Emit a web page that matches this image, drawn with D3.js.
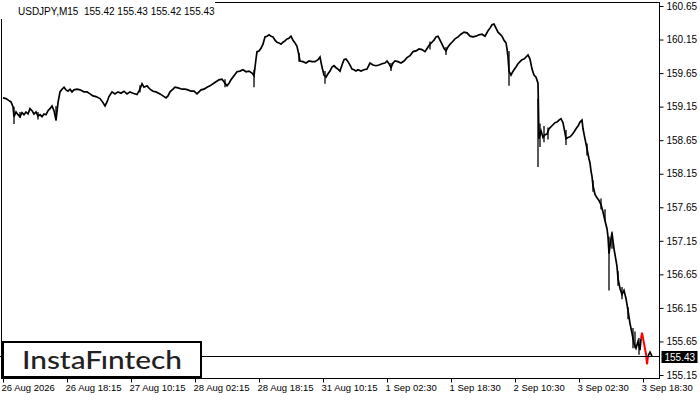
<!DOCTYPE html>
<html><head><meta charset="utf-8">
<script src="https://cdn.jsdelivr.net/npm/d3@7/dist/d3.min.js"></script>
<style>
html,body{margin:0;padding:0;background:#fff;}
svg{display:block;}
</style></head>
<body>
<svg id="chart" width="700" height="400"></svg>
<script>
// ---- data ----
const symbolTitle = "USDJPY,M15  155.42 155.43 155.42 155.43";
const lastPrice = 155.43;
const yTickValues = [160.65,160.15,159.65,159.15,158.65,158.15,157.65,157.15,156.65,156.15,155.65,155.15];
const xTickBars = [0,64,128,192,256,320,384,448,512,576,640];
const xTickLabels = ["26 Aug 2026","26 Aug 18:15","27 Aug 10:15","28 Aug 02:15","28 Aug 18:15","31 Aug 10:15","1 Sep 02:30","1 Sep 18:30","2 Sep 10:30","3 Sep 02:30","3 Sep 18:30"];

// sampled bar index (15-min bars) and price
const barIndex = [0,3,6,8,10,11,13,15,17,19,21,23,25,27,29,31,33,35,37,39,41,43,45,47,49,51,53,55,57,59,61,63,65,67,69,71,74,77,81,84,87,90,93,97,100,102,104,106,109,112,115,118,121,124,127,130,134,137,139,141,144,147,150,153,157,160,163,165,167,170,172,175,179,182,185,188,191,194,196,198,201,204,207,210,213,216,219,222,224,226,228,231,234,237,240,243,246,249,251,253,254,256,258,260,262,264,266,268,270,272,274,276,278,280,282,284,286,288,290,292,294,296,297,300,303,306,309,312,315,317,319,321,323,325,327,329,331,333,335,337,339,341,343,345,347,349,351,353,355,358,361,364,367,370,373,376,379,382,384,386,388,390,392,395,398,401,404,407,410,413,416,419,422,425,427,429,431,433,435,437,439,441,443,445,447,449,452,455,458,461,464,467,470,473,476,479,482,485,487,489,491,493,495,497,499,501,503,504,505,506,508,509,511,513,515,517,519,521,523,525,527,529,531,533,535,536,538,540,542,544,546,548,550,552,554,556,558,560,562,563,565,567,569,571,573,575,577,579,580,582,584,586,587,588,589,590,592,594,596,598,600,602,604,605,606,608,609,611,613,614,615,617,619,621,623,625,627,629,631,633,635,637,638,639,641,643,644,645,647,649];
const price = [159.28,159.27,159.24,159.22,159.15,159.00,159.07,159.03,159.00,159.06,159.03,159.07,159.04,159.12,159.09,159.04,159.07,159.01,159.03,159.00,159.04,159.03,159.09,159.12,159.16,159.09,158.95,159.21,159.37,159.41,159.44,159.40,159.38,159.41,159.37,159.40,159.41,159.40,159.37,159.37,159.34,159.31,159.30,159.27,159.21,159.16,159.22,159.30,159.37,159.34,159.37,159.35,159.38,159.34,159.37,159.35,159.33,159.41,159.49,159.44,159.46,159.41,159.38,159.37,159.34,159.31,159.28,159.31,159.37,159.41,159.44,159.43,159.41,159.41,159.40,159.38,159.38,159.34,159.37,159.40,159.41,159.44,159.46,159.49,159.52,159.55,159.56,159.50,159.46,159.50,159.55,159.61,159.67,159.68,159.70,159.67,159.68,159.65,159.61,159.86,159.97,159.98,160.02,160.08,160.19,160.20,160.22,160.20,160.19,160.14,160.11,160.10,160.08,160.11,160.13,160.16,160.17,160.20,160.14,160.10,160.05,159.91,159.83,159.82,159.80,159.83,159.82,159.82,159.85,159.89,159.74,159.62,159.59,159.64,159.68,159.74,159.76,159.73,159.71,159.68,159.77,159.85,159.86,159.82,159.77,159.71,159.70,159.68,159.70,159.68,159.70,159.71,159.80,159.77,159.76,159.77,159.79,159.80,159.83,159.79,159.73,159.80,159.83,159.82,159.80,159.83,159.88,159.91,159.97,159.98,160.01,160.00,159.97,160.04,160.08,160.11,160.14,160.19,160.20,160.14,160.08,160.02,159.98,160.04,160.08,160.11,160.16,160.19,160.23,160.26,160.25,160.20,160.19,160.20,160.22,160.23,160.20,160.28,160.32,160.37,160.38,160.32,160.26,160.23,160.20,160.14,160.10,160.01,159.89,159.68,159.62,159.65,159.70,159.74,159.79,159.82,159.85,159.86,159.89,159.92,159.86,159.71,159.62,159.59,159.50,158.67,158.79,158.69,158.73,158.74,158.82,158.85,158.88,158.91,158.92,158.95,158.97,158.91,158.76,158.67,158.69,158.70,158.73,158.77,158.82,158.86,158.92,158.95,158.82,158.67,158.52,158.37,158.31,158.19,158.11,157.97,157.84,157.79,157.75,157.69,157.58,157.45,157.33,157.21,156.96,157.18,157.27,157.03,156.86,156.77,156.59,156.44,156.35,156.41,156.29,156.11,155.92,155.77,155.62,155.55,155.65,155.52,155.69,155.78,155.62,155.46,155.31,155.43,155.49,155.43];

// intrabar extremes (spikes)
const spikeBar  = [11,17,35,53,137,222,251,296,322,388,427,443,506,535,537,541,545,563,584,590,598,602,606,609,615,619,625,630,632,636];
const spikeHigh = [159.15,159.07,159.07,159.16,159.47,159.56,159.70,159.95,159.68,159.80,160.12,160.04,159.98,159.27,158.90,158.86,158.84,158.80,158.60,158.05,157.78,157.62,157.21,157.29,156.70,156.46,156.16,155.85,155.80,155.70];
const spikeLow  = [158.89,158.98,158.96,158.94,159.36,159.44,159.44,159.82,159.49,159.68,160.00,159.92,159.46,158.25,158.55,158.62,158.66,158.58,158.42,157.88,157.62,157.45,156.41,157.03,156.48,156.28,155.98,155.55,155.55,155.45];

// highlighted (last pattern) bars
const highlightFrom = 638, highlightTo = 645;

const logoText = "Insta\u0046\u0131ntech";

// ---- drawing ----
const svg = d3.select("#chart");
const W = 700, H = 400;
const plotL = 1.5, plotR = 659.5, plotT = 2.5, plotB = 378.5;

const x = d3.scaleLinear().domain([0, 649]).range([3, 652]);
const y = d3.scaleLinear().domain([155.15, 160.65]).range([375, 6]);

svg.append("rect").attr("width", W).attr("height", H).attr("fill", "#fff");

// plot border
svg.append("rect").attr("x", plotL).attr("y", plotT)
  .attr("width", plotR - plotL).attr("height", plotB - plotT)
  .attr("fill", "none").attr("stroke", "#000").attr("stroke-width", 1);

// y axis (right)
const yAxis = d3.axisRight(y).tickValues(yTickValues).tickSize(4).tickPadding(3)
  .tickFormat(d => d.toFixed(2));
const gy = svg.append("g").attr("transform", `translate(${plotR},0)`).call(yAxis);
gy.select(".domain").remove();
gy.selectAll("line").attr("stroke", "#000");
gy.selectAll("text").attr("fill", "#000").style("font-family", "'Liberation Sans', Arial, sans-serif").style("font-size", "10px");

// x axis (bottom)
const xAxis = d3.axisBottom(x).tickValues(xTickBars).tickSize(4).tickPadding(2)
  .tickFormat((d, i) => xTickLabels[i]);
const gx = svg.append("g").attr("transform", `translate(0,${plotB})`).call(xAxis);
gx.select(".domain").remove();
gx.selectAll("line").attr("stroke", "#000");
gx.selectAll("text").attr("fill", "#000").attr("text-anchor", "start").attr("dx", "-2")
  .style("font-family", "'Liberation Sans', Arial, sans-serif").style("font-size", "9.5px");

// price series
const pts = barIndex.map((b, i) => ({ b, p: price[i] }));
const line = d3.line().x(d => x(d.b)).y(d => y(d.p));

const g = svg.append("g");
// spikes
g.selectAll("line.spike").data(spikeBar).join("line")
  .attr("class", "spike")
  .attr("x1", (d) => x(d)).attr("x2", (d) => x(d))
  .attr("y1", (d, i) => y(spikeHigh[i])).attr("y2", (d, i) => y(spikeLow[i]))
  .attr("stroke", "#000").attr("stroke-width", 1.3);

const partA = pts.filter(d => d.b <= highlightFrom);
const partB = pts.filter(d => d.b >= highlightFrom && d.b <= highlightTo);
const partC = pts.filter(d => d.b >= highlightTo);
g.append("path").attr("d", line(partA)).attr("fill", "none").attr("stroke", "#000").attr("stroke-width", 1.7);
g.append("path").attr("d", line(partC)).attr("fill", "none").attr("stroke", "#000").attr("stroke-width", 1.7);
g.append("path").attr("d", line(partB)).attr("fill", "none").attr("stroke", "#f00").attr("stroke-width", 2);

// current price line
svg.append("line").attr("x1", 0).attr("x2", plotR)
  .attr("y1", Math.round(y(lastPrice)) + 0.5).attr("y2", Math.round(y(lastPrice)) + 0.5)
  .attr("stroke", "#000").attr("stroke-width", 1);
svg.append("rect").attr("x", plotR + 2).attr("y", Math.round(y(lastPrice)) - 5)
  .attr("width", 36).attr("height", 12).attr("fill", "#000");
svg.append("text").attr("x", plotR + 5).attr("y", Math.round(y(lastPrice)) + 4.5)
  .attr("fill", "#fff").style("font-family", "'Liberation Sans', Arial, sans-serif").style("font-size", "10px")
  .text(lastPrice.toFixed(2));

// title with white backing
svg.append("rect").attr("x", 0).attr("y", 0).attr("width", 215).attr("height", 19).attr("fill", "#fff");
svg.append("text").attr("x", 18).attr("y", 15)
  .style("font-family", "'Liberation Sans', Arial, sans-serif").style("font-size", "10px")
  .attr("fill", "#000").attr("xml:space", "preserve").style("white-space", "pre")
  .text(symbolTitle);

// logo box
svg.append("rect").attr("x", 3).attr("y", 342).attr("width", 198).attr("height", 35)
  .attr("fill", "#fff").attr("stroke", "#000").attr("stroke-width", 2);
svg.append("text").attr("x", 102).attr("y", 369).attr("text-anchor", "middle")
  .attr("textLength", 160).attr("lengthAdjust", "spacingAndGlyphs")
  .style("font-family", "Lato, 'Open Sans', sans-serif").style("font-weight", "500").style("font-size", "25px")
  .attr("fill", "#222").text(logoText);
</script>
</body></html>
